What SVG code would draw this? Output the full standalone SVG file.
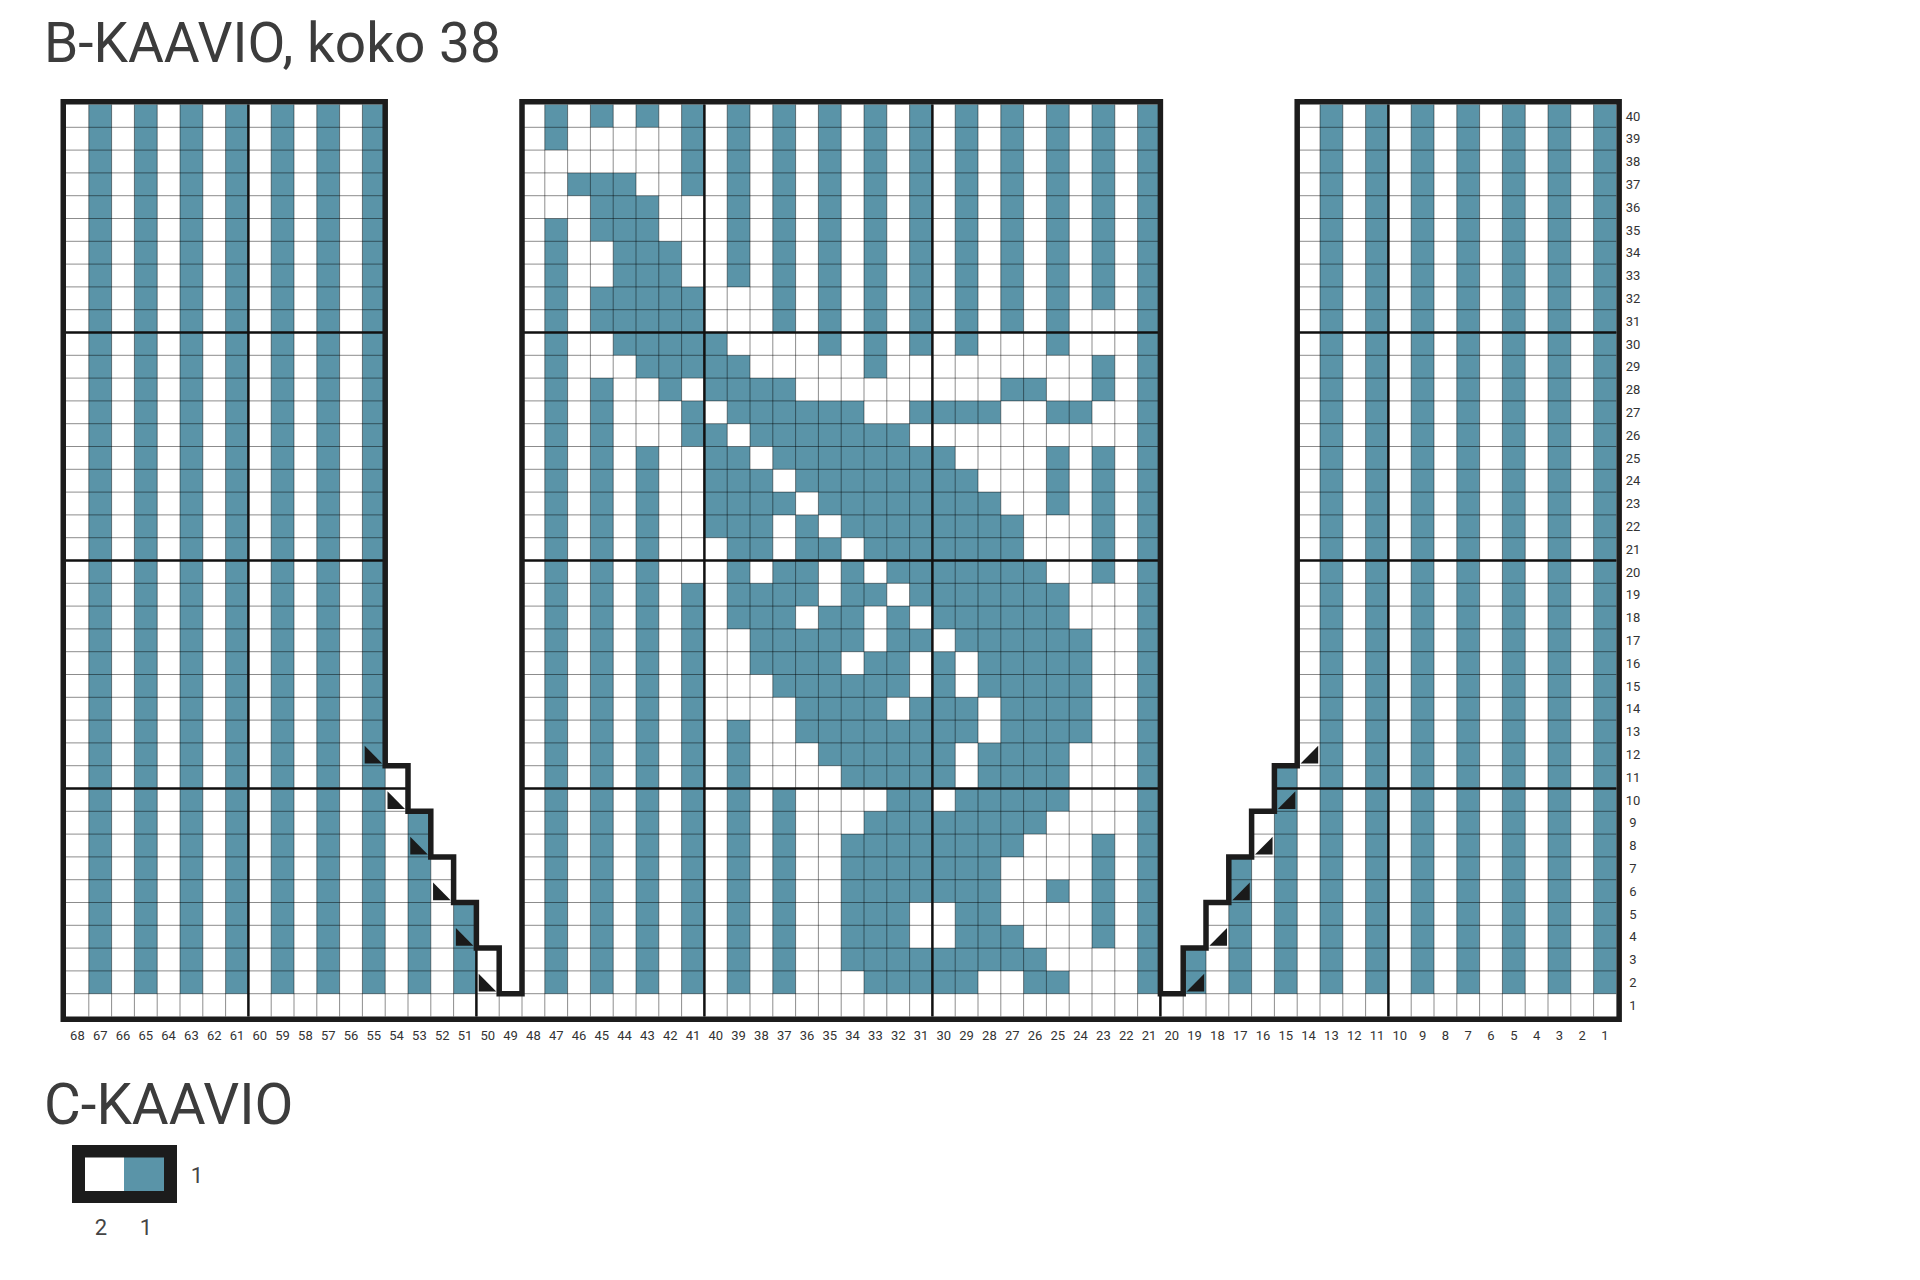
<svg xmlns="http://www.w3.org/2000/svg" xmlns:xlink="http://www.w3.org/1999/xlink" width="1920" height="1280" viewBox="0 0 1920 1280">
<style>
.t{fill:#5a94a8}
.g{fill:none;stroke:#000;stroke-opacity:.45;stroke-width:1;vector-effect:non-scaling-stroke}
.k{fill:none;stroke:#111;stroke-width:2.5;vector-effect:non-scaling-stroke}
.o{fill:none;stroke:#1c1c1c;stroke-width:5.5;stroke-linejoin:miter}
.tri{fill:#1a1a1a}
.lab{font-family:Roboto,"Liberation Sans",sans-serif;font-size:13px;fill:#333;text-anchor:middle}
.title{font-family:Roboto,"Liberation Sans",sans-serif;font-size:55px;fill:#3c3c3c}
.leg{font-family:Roboto,"Liberation Sans",sans-serif;font-size:22px;fill:#444;text-anchor:middle}
</style>
<defs>
<path id="tl" d="M0.1 0.12V0.9H0.87Z"/>
<path id="tr" d="M0.92 0.12V0.9H0.15Z"/>
</defs>
<rect width="1920" height="1280" fill="#fff"/>
<text id="title-b" class="title" x="44" y="62">B-KAAVIO, koko 38</text>
<g id="chart-b" transform="translate(66,104.5) scale(22.8)">
<path id="stripes-sides" class="t" d="M1 0h1v39h-1zM3 0h1v39h-1zM5 0h1v39h-1zM7 0h1v39h-1zM9 0h1v39h-1zM11 0h1v39h-1zM13 0h1v39h-1zM15 31h1v8h-1zM17 35h1v4h-1zM49 37h1v2h-1zM51 33h1v6h-1zM53 29h1v10h-1zM55 0h1v39h-1zM57 0h1v39h-1zM59 0h1v39h-1zM61 0h1v39h-1zM63 0h1v39h-1zM65 0h1v39h-1zM67 0h1v39h-1z"/>
<path id="motif" class="t" d="M21 0h1v2h-1zM21 5h1v34h-1zM22 3h1v1h-1zM23 0h1v1h-1zM23 3h1v3h-1zM23 8h1v2h-1zM23 12h1v27h-1zM24 3h1v8h-1zM25 0h1v1h-1zM25 4h1v8h-1zM25 15h1v24h-1zM26 6h1v7h-1zM27 0h1v4h-1zM27 8h1v4h-1zM27 13h1v2h-1zM27 21h1v18h-1zM47 0h1v39h-1zM29 0h1v8h-1zM31 0h1v8h-1zM33 0h1v8h-1zM35 0h1v8h-1zM37 0h1v8h-1zM39 0h1v8h-1zM41 0h1v8h-1zM43 0h1v8h-1zM45 0h1v8h-1zM29 27h1v12h-1zM31 30h1v9h-1z
M31 8h1v1h-1zM33 8h1v1h-1zM35 8h1v1h-1zM37 8h1v1h-1zM39 8h1v1h-1zM41 8h1v1h-1zM43 8h1v1h-1zM45 8h1v1h-1z
M31 9h1v1h-1zM33 9h1v1h-1zM35 9h1v1h-1zM37 9h1v1h-1zM39 9h1v1h-1zM41 9h1v1h-1zM43 9h1v1h-1z
M28 10h1v1h-1zM33 10h1v1h-1zM35 10h1v1h-1zM37 10h1v1h-1zM39 10h1v1h-1zM43 10h1v1h-1z
M28 11h2v1h-2zM35 11h1v1h-1zM45 11h1v1h-1z
M28 12h4v1h-4zM41 12h2v1h-2zM45 12h1v1h-1z
M29 13h6v1h-6zM37 13h4v1h-4zM43 13h2v1h-2z
M28 14h1v1h-1zM30 14h7v1h-7z
M28 15h2v1h-2zM31 15h8v1h-8zM43 15h1v1h-1zM45 15h1v1h-1z
M28 16h3v1h-3zM32 16h8v1h-8zM43 16h1v1h-1zM45 16h1v1h-1z
M28 17h4v1h-4zM33 17h8v1h-8zM43 17h1v1h-1zM45 17h1v1h-1z
M28 18h3v1h-3zM32 18h1v1h-1zM34 18h8v1h-8zM45 18h1v1h-1z
M29 19h2v1h-2zM32 19h2v1h-2zM35 19h7v1h-7zM45 19h1v1h-1z
M29 20h1v1h-1zM31 20h2v1h-2zM34 20h1v1h-1zM36 20h7v1h-7zM45 20h1v1h-1z
M29 21h4v1h-4zM34 21h2v1h-2zM37 21h7v1h-7z
M29 22h3v1h-3zM33 22h2v1h-2zM36 22h1v1h-1zM38 22h6v1h-6z
M30 23h5v1h-5zM36 23h2v1h-2zM39 23h6v1h-6z
M30 24h4v1h-4zM35 24h2v1h-2zM38 24h1v1h-1zM40 24h5v1h-5z
M31 25h6v1h-6zM38 25h1v1h-1zM40 25h5v1h-5z
M32 26h4v1h-4zM37 26h3v1h-3zM41 26h4v1h-4z
M32 27h8v1h-8zM41 27h4v1h-4z
M33 28h6v1h-6zM40 28h4v1h-4z
M34 29h5v1h-5zM40 29h4v1h-4z
M36 30h2v1h-2zM39 30h5v1h-5z
M35 31h8v1h-8z
M34 32h8v1h-8zM45 32h1v1h-1z
M34 33h7v1h-7zM45 33h1v1h-1z
M34 34h7v1h-7zM43 34h1v1h-1zM45 34h1v1h-1z
M34 35h3v1h-3zM39 35h2v1h-2zM45 35h1v1h-1z
M34 36h3v1h-3zM39 36h3v1h-3zM45 36h1v1h-1z
M34 37h9v1h-9z
M35 38h5v1h-5zM42 38h2v1h-2z"/>
<path id="grid-thin" class="g" d="M1 0V40M2 0V40M3 0V40M4 0V40M5 0V40M6 0V40M7 0V40M8 0V40M9 0V40M10 0V40M11 0V40M12 0V40M13 0V40M14 0V40M15 29V40M16 31V40M17 33V40M18 35V40M19 37V40M20 0V40M21 0V40M22 0V40M23 0V40M24 0V40M25 0V40M26 0V40M27 0V40M28 0V40M29 0V40M30 0V40M31 0V40M32 0V40M33 0V40M34 0V40M35 0V40M36 0V40M37 0V40M38 0V40M39 0V40M40 0V40M41 0V40M42 0V40M43 0V40M44 0V40M45 0V40M46 0V40M47 0V40M48 0V40M49 37V40M50 35V40M51 33V40M52 31V40M53 29V40M54 0V40M55 0V40M56 0V40M57 0V40M58 0V40M59 0V40M60 0V40M61 0V40M62 0V40M63 0V40M64 0V40M65 0V40M66 0V40M67 0V40
M0 1H14M20 1H48M54 1H68M0 2H14M20 2H48M54 2H68M0 3H14M20 3H48M54 3H68M0 4H14M20 4H48M54 4H68M0 5H14M20 5H48M54 5H68M0 6H14M20 6H48M54 6H68M0 7H14M20 7H48M54 7H68M0 8H14M20 8H48M54 8H68M0 9H14M20 9H48M54 9H68M0 10H14M20 10H48M54 10H68
M0 11H14M20 11H48M54 11H68M0 12H14M20 12H48M54 12H68M0 13H14M20 13H48M54 13H68M0 14H14M20 14H48M54 14H68M0 15H14M20 15H48M54 15H68M0 16H14M20 16H48M54 16H68M0 17H14M20 17H48M54 17H68M0 18H14M20 18H48M54 18H68M0 19H14M20 19H48M54 19H68M0 20H14M20 20H48M54 20H68
M0 21H14M20 21H48M54 21H68M0 22H14M20 22H48M54 22H68M0 23H14M20 23H48M54 23H68M0 24H14M20 24H48M54 24H68M0 25H14M20 25H48M54 25H68M0 26H14M20 26H48M54 26H68M0 27H14M20 27H48M54 27H68M0 28H14M20 28H48M54 28H68
M0 29H15M20 29H48M53 29H68M0 30H15M20 30H48M53 30H68M0 31H16M20 31H48M52 31H68M0 32H16M20 32H48M52 32H68M0 33H17M20 33H48M51 33H68M0 34H17M20 34H48M51 34H68M0 35H18M20 35H48M50 35H68M0 36H18M20 36H48M50 36H68M0 37H19M20 37H48M49 37H68M0 38H19M20 38H48M49 38H68M0 39H68"/>
<path id="grid-ten" class="k" d="M8 0V40M18 35V40M28 0V40M38 0V40M48 0V40M58 0V40M0 10H14M20 10H48M54 10H68M0 20H14M20 20H48M54 20H68M0 30H15M20 30H48M53 30H68"/>
<g id="decrease-marks" class="tri">
<use xlink:href="#tl" x="13" y="28"/><use xlink:href="#tl" x="14" y="30"/><use xlink:href="#tl" x="15" y="32"/><use xlink:href="#tl" x="16" y="34"/><use xlink:href="#tl" x="17" y="36"/><use xlink:href="#tl" x="18" y="38"/>
<use xlink:href="#tr" x="54" y="28"/><use xlink:href="#tr" x="53" y="30"/><use xlink:href="#tr" x="52" y="32"/><use xlink:href="#tr" x="51" y="34"/><use xlink:href="#tr" x="50" y="36"/><use xlink:href="#tr" x="49" y="38"/>
</g>
</g>
<path id="outline" class="o" d="M63.25 101.75H385.2V765.7H408V811.3H430.8V856.9H453.6V902.5H476.4V948.1H499.2V993.7H522V101.75H1160.4V993.7H1183.2V948.1H1206V902.5H1228.8V856.9H1251.6V811.3H1274.4V765.7H1297.2V101.75H1619.15V1019.25H63.25Z"/>
<g id="col-labels" class="lab">
<text x="77.4" y="1040">68</text><text x="100.2" y="1040">67</text><text x="123" y="1040">66</text><text x="145.8" y="1040">65</text><text x="168.6" y="1040">64</text><text x="191.4" y="1040">63</text><text x="214.2" y="1040">62</text><text x="237" y="1040">61</text><text x="259.8" y="1040">60</text><text x="282.6" y="1040">59</text><text x="305.4" y="1040">58</text><text x="328.2" y="1040">57</text><text x="351" y="1040">56</text><text x="373.8" y="1040">55</text><text x="396.6" y="1040">54</text><text x="419.4" y="1040">53</text><text x="442.2" y="1040">52</text><text x="465" y="1040">51</text><text x="487.8" y="1040">50</text><text x="510.6" y="1040">49</text><text x="533.4" y="1040">48</text><text x="556.2" y="1040">47</text><text x="579" y="1040">46</text><text x="601.8" y="1040">45</text><text x="624.6" y="1040">44</text><text x="647.4" y="1040">43</text><text x="670.2" y="1040">42</text><text x="693" y="1040">41</text><text x="715.8" y="1040">40</text><text x="738.6" y="1040">39</text><text x="761.4" y="1040">38</text><text x="784.2" y="1040">37</text><text x="807" y="1040">36</text><text x="829.8" y="1040">35</text><text x="852.6" y="1040">34</text><text x="875.4" y="1040">33</text><text x="898.2" y="1040">32</text><text x="921" y="1040">31</text><text x="943.8" y="1040">30</text><text x="966.6" y="1040">29</text><text x="989.4" y="1040">28</text><text x="1012.2" y="1040">27</text><text x="1035" y="1040">26</text><text x="1057.8" y="1040">25</text><text x="1080.6" y="1040">24</text><text x="1103.4" y="1040">23</text><text x="1126.2" y="1040">22</text><text x="1149" y="1040">21</text><text x="1171.8" y="1040">20</text><text x="1194.6" y="1040">19</text><text x="1217.4" y="1040">18</text><text x="1240.2" y="1040">17</text><text x="1263" y="1040">16</text><text x="1285.8" y="1040">15</text><text x="1308.6" y="1040">14</text><text x="1331.4" y="1040">13</text><text x="1354.2" y="1040">12</text><text x="1377" y="1040">11</text><text x="1399.8" y="1040">10</text><text x="1422.6" y="1040">9</text><text x="1445.4" y="1040">8</text><text x="1468.2" y="1040">7</text><text x="1491" y="1040">6</text><text x="1513.8" y="1040">5</text><text x="1536.6" y="1040">4</text><text x="1559.4" y="1040">3</text><text x="1582.2" y="1040">2</text><text x="1605" y="1040">1</text>
</g>
<g id="row-labels" class="lab">
<text x="1633" y="120.5">40</text><text x="1633" y="143.3">39</text><text x="1633" y="166.1">38</text><text x="1633" y="188.9">37</text><text x="1633" y="211.7">36</text><text x="1633" y="234.5">35</text><text x="1633" y="257.3">34</text><text x="1633" y="280.1">33</text><text x="1633" y="302.9">32</text><text x="1633" y="325.7">31</text><text x="1633" y="348.5">30</text><text x="1633" y="371.3">29</text><text x="1633" y="394.1">28</text><text x="1633" y="416.9">27</text><text x="1633" y="439.7">26</text><text x="1633" y="462.5">25</text><text x="1633" y="485.3">24</text><text x="1633" y="508.1">23</text><text x="1633" y="530.9">22</text><text x="1633" y="553.7">21</text><text x="1633" y="576.5">20</text><text x="1633" y="599.3">19</text><text x="1633" y="622.1">18</text><text x="1633" y="644.9">17</text><text x="1633" y="667.7">16</text><text x="1633" y="690.5">15</text><text x="1633" y="713.3">14</text><text x="1633" y="736.1">13</text><text x="1633" y="758.9">12</text><text x="1633" y="781.7">11</text><text x="1633" y="804.5">10</text><text x="1633" y="827.3">9</text><text x="1633" y="850.1">8</text><text x="1633" y="872.9">7</text><text x="1633" y="895.7">6</text><text x="1633" y="918.5">5</text><text x="1633" y="941.3">4</text><text x="1633" y="964.1">3</text><text x="1633" y="986.9">2</text><text x="1633" y="1009.7">1</text>
</g>
<text id="title-c" class="title" x="44" y="1124" style="font-size:56.5px">C-KAAVIO</text>
<g id="legend-c">
<rect x="72" y="1145" width="105" height="58" fill="#1c1c1c"/>
<rect x="85" y="1157.5" width="39" height="33.5" fill="#fff"/>
<rect class="t" x="124" y="1157.5" width="40" height="33.5"/>
<text class="leg" x="197" y="1183">1</text>
<text class="leg" x="101" y="1235">2</text>
<text class="leg" x="146" y="1235">1</text>
</g>
</svg>
